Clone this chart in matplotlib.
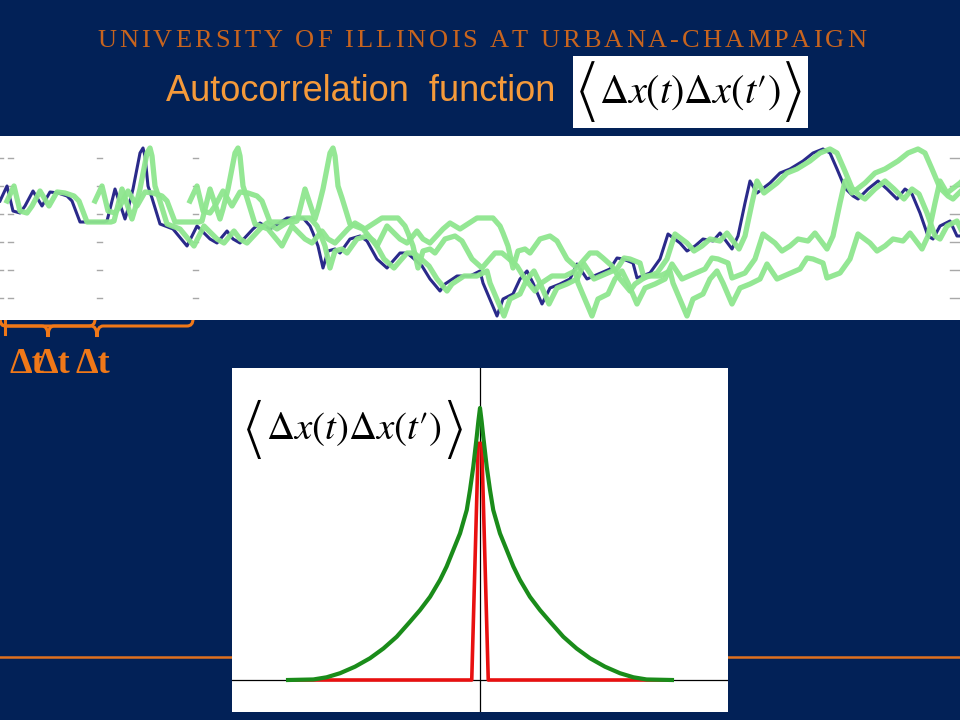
import numpy as np
import matplotlib
matplotlib.use("Agg")
import matplotlib.pyplot as plt
from matplotlib.path import Path
from matplotlib.patches import PathPatch, Rectangle

plt.rcParams["mathtext.fontset"] = "stix"

# blue trace (time in px-like units, height above panel bottom)
trace_t = [0, 7, 13, 20, 25, 33, 42, 50, 58, 67, 72, 80, 104, 107, 115, 118, 125, 128, 133, 140,
           143, 145, 148, 152, 160, 173, 187, 197, 210, 217, 227, 233, 240, 253, 260, 270, 287, 303, 310, 313,
           318, 323, 328, 335, 340, 350, 360, 367, 377, 387, 393, 400, 407, 413, 422, 430, 440, 445, 457, 470,
           480, 483, 497, 503, 513, 520, 527, 533, 542, 550, 560, 570, 577, 587, 610, 617, 623, 633, 637, 650,
           660, 668, 680, 687, 695, 703, 713, 720, 732, 738, 745, 750, 757, 770, 780, 790, 803, 813, 823, 830,
           837, 845, 853, 858, 868, 878, 887, 897, 905, 912, 920, 928, 933, 940, 950, 957, 960]
trace_h = [119, 134, 109, 107, 114, 129, 114, 128, 127, 124, 119, 98, 98, 99, 131, 122, 101, 111, 131, 167,
           172, 164, 134, 122, 96, 91, 74, 94, 81, 77, 89, 81, 77, 91, 97, 91, 102, 102, 94, 87,
           74, 52, 69, 71, 67, 81, 84, 79, 61, 52, 59, 67, 67, 62, 54, 41, 29, 36, 44, 44,
           49, 37, 4, 21, 26, 41, 49, 37, 16, 32, 36, 41, 56, 41, 51, 62, 61, 57, 42, 47,
           61, 86, 77, 69, 74, 81, 79, 87, 71, 84, 117, 139, 127, 137, 147, 151, 159, 167, 171, 167,
           151, 132, 124, 121, 131, 139, 131, 121, 131, 126, 107, 84, 81, 94, 99, 84, 84]
shifts = [7, 95, 190]

# autocorrelation curves (right half, mirrored)
acf_lag = [0, 0.087, 0.17, 0.35, 0.52, 0.69, 1.04, 1.39, 1.74, 2.08, 2.60, 3.125, 3.65,
           4.34, 5.03, 5.73, 6.51, 7.29, 7.99, 8.68, 10.0]
acf_slow = [1.0, 0.95, 0.895, 0.784, 0.699, 0.625, 0.539, 0.478, 0.417, 0.368, 0.306, 0.257, 0.214,
            0.159, 0.116, 0.080, 0.049, 0.025, 0.010, 0.002, 0.0]
fast_lag = [-10, -0.43, -0.09, 0.09, 0.43, 10]
fast_val = [0, 0, 0.87, 0.87, 0, 0]

NAVY = "#022157"
ORANGE = "#F07818"
INNER = "$\\Delta x(t)\\Delta x(t\u2032)$"
BRACKET_FONT = ["STIXSizeTwoSym", "DejaVu Sans"]

fig = plt.figure(figsize=(9.6, 7.2), dpi=100, facecolor=NAVY)
deco = fig.add_axes([0, 0, 1, 1])
deco.set_xlim(0, 960)
deco.set_ylim(720, 0)
deco.axis("off")
renderer = fig.canvas.get_renderer()

# header with letter spacing
header = "UNIVERSITY OF ILLINOIS AT URBANA-CHAMPAIGN"
hsize = 19
hdr = dict(family="Liberation Serif", size=hsize, color="#C8641E")
widths = []
for ch in header:
    if ch == " ":
        widths.append(0.25 * hsize * 100 / 72)
        continue
    t = deco.text(0, 0, ch, **hdr)
    widths.append(t.get_window_extent(renderer).width)
    t.remove()
gap = (769 - sum(widths)) / (len(header) - 1)
x = 97
for ch, w in zip(header, widths):
    if ch != " ":
        deco.text(x, 47, ch, ha="left", va="baseline", **hdr)
    x += w + gap

deco.text(166, 101, "Autocorrelation  function", family="Liberation Sans", size=26,
          color="#F59A3A", va="baseline")
deco.add_patch(Rectangle((573, 56), 235, 72, fc="white", ec="none"))


def corr_label(xc, yc, size, bsize):
    # inner expression plus tall angle brackets, in slide pixel coords
    inner = fig.text(xc, yc, INNER, transform=deco.transData, ha="center", va="center",
                     size=size, color="black")
    bb = inner.get_window_extent(renderer)
    fy = 1 - yc / 720
    fig.text((bb.x0 - 2) / 960, fy, "\u27e8", ha="right", va="center",
             size=bsize, color="black", family=BRACKET_FONT)
    fig.text((bb.x1 + 2) / 960, fy, "\u27e9", ha="left", va="center",
             size=bsize, color="black", family=BRACKET_FONT)


corr_label(690, 92, 29, 24)

deco.plot([0, 960], [657, 657], color="#E0701E", lw=1.8)


def brace(x0, x1, xm, ytop=319, yl=326, ytip=337, r=6):
    verts = [(x0, ytop), (x0, yl), (x0 + r, yl), (xm - r, yl), (xm, yl), (xm, ytip),
             (xm, yl), (xm + r, yl), (x1 - r, yl), (x1, yl), (x1, ytop)]
    codes = [Path.MOVETO, Path.CURVE3, Path.CURVE3, Path.LINETO, Path.CURVE3, Path.CURVE3,
             Path.CURVE3, Path.CURVE3, Path.LINETO, Path.CURVE3, Path.CURVE3]
    deco.add_patch(PathPatch(Path(verts, codes), fc="none", ec=ORANGE, lw=2.2))


brace(0, 95, 48)
brace(0, 193, 97)
deco.plot([5, 5], [318, 334], color=ORANGE, lw=2.2)

dt = dict(family="Liberation Serif", weight="bold", size=26, color=ORANGE, va="baseline")
deco.text(10, 373, "Δt", **dt)
deco.text(35, 373, "Δt", **dt)
deco.text(76, 373, "Δt", **dt)

# trace panel
ax = fig.add_axes([0, 1 - 320 / 720, 1, 184 / 720])
ax.set_facecolor("white")
ax.set_xlim(0, 960)
ax.set_ylim(0, 184)
ax.set_xticks([])
ax.set_yticks([])
for s in ax.spines.values():
    s.set_visible(False)
for yh in [162, 134, 106, 78, 50, 22]:
    for xa, xb in [(0, 3), (8, 13), (97, 102), (193, 198), (950, 960)]:
        ax.plot([xa, xb], [yh, yh], color="#a8a8a8", lw=1)
tt = np.array(trace_t)
ax.plot(tt, trace_h, color="#2a2a8a", lw=2.2, zorder=2)
for s in shifts:
    ax.plot(tt + s, trace_h, color="#8ee68e", lw=3.8, alpha=0.95, zorder=3)

# autocorrelation panel
ax2 = fig.add_axes([232 / 960, 8 / 720, 496 / 960, 344 / 720])
ax2.set_facecolor("white")
ax2.set_xlim(-12.92, 12.92)
ax2.set_ylim(-32 / 272, 312 / 272)
ax2.set_xticks([])
ax2.set_yticks([])
for s in ax2.spines.values():
    s.set_visible(False)
lag = np.array(acf_lag)
slow = np.array(acf_slow)
ax2.axvline(0, color="black", lw=0.9)
ax2.axhline(0, color="black", lw=0.9)
ax2.plot(fast_lag, fast_val, color="#E81010", lw=2.6)
ax2.plot(np.concatenate([-lag[::-1], lag[1:]]), np.concatenate([slow[::-1], slow[1:]]),
         color="#1A8C1A", lw=3.0)

corr_label(354, 429, 28, 23)

fig.savefig("out.png", dpi=100, facecolor=NAVY)
